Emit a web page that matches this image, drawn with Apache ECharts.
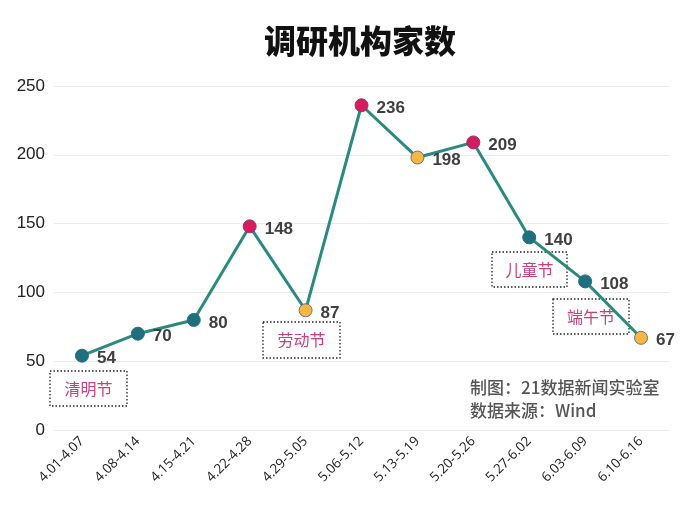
<!DOCTYPE html>
<html><head><meta charset="utf-8">
<script src="https://cdn.jsdelivr.net/npm/echarts@6/dist/echarts.min.js"></script>
<style>html,body{margin:0;padding:0;background:#fff}#c{width:700px;height:512px}</style>
</head><body><div id="c"></div>
<script>
const categories = ['4.01-4.07','4.08-4.14','4.15-4.21','4.22-4.28','4.29-5.05','5.06-5.12','5.13-5.19','5.20-5.26','5.27-6.02','6.03-6.09','6.10-6.16'];
const values = [54,70,80,148,87,236,198,209,140,108,67];
const pointKinds = ['t','t','t','m','o','m','o','m','t','t','o'];
const yTicks = [0,50,100,150,200,250];
const kindColor = {t:'#1f6f7e', m:'#d81b60', o:'#f6b840'};
const kindBorder = {t:'#1f6f7e', m:'#8a3a6a', o:'#7a6a8a'};

const notes = [
  {text:'清明节', x:50, y:371, w:77, h:35},
  {text:'劳动节', x:263, y:322, w:77, h:36},
  {text:'儿童节', x:492, y:252, w:75, h:35},
  {text:'端午节', x:553, y:299, w:76, h:35}
];

const chart = echarts.init(document.getElementById('c'));
const graphics = [];
notes.forEach(n => {
  graphics.push({type:'rect', shape:{x:n.x,y:n.y,width:n.w,height:n.h},
    style:{fill:'#fff', stroke:'#222', lineWidth:1.3, lineDash:[1.5,2]}, z:1});
  graphics.push({type:'text', x:n.x+n.w/2, y:n.y+n.h/2,
    style:{text:n.text, fill:'#c8407e', font:'16px "Noto Sans CJK SC"', align:'center', verticalAlign:'middle'}, z:2});
});
graphics.push({type:'text', left:470, top:376, style:{text:'制图：21数据新闻实验室\n数据来源：Wind', fill:'#555', font:'500 17px "Noto Sans CJK SC"', lineHeight:23}, z:5});

chart.setOption({
  animation:false,
  title:{text:'调研机构家数', left:259, top:20, textStyle:{fontSize:32, fontWeight:900, color:'#111', fontFamily:'Noto Sans CJK SC'}},
  grid:{left:54, right:31, top:86, bottom:82},
  xAxis:{type:'category', data:categories, boundaryGap:true,
    axisLine:{show:false}, axisTick:{show:false},
    axisLabel:{rotate:45, interval:0, color:'#222', fontSize:13.5, margin:9, fontFamily:'Open Sans'}},
  yAxis:{type:'value', min:0, max:250, interval:50,
    axisLine:{show:false}, axisTick:{show:false},
    splitLine:{lineStyle:{color:'#ebebeb', width:1}},
    axisLabel:{color:'#222', fontSize:17, margin:9, fontFamily:'Liberation Sans',
      formatter: v => yTicks.includes(v) ? String(v) : ''}},
  graphic: graphics,
  series:[{
    type:'line', z:3,
    data: values.map((v,i)=>({value:v, itemStyle:{color:kindColor[pointKinds[i]], borderColor:kindBorder[pointKinds[i]], borderWidth:1}})),
    symbol:'circle', symbolSize:13,
    lineStyle:{color:'#2a8a80', width:3},
    label:{show:true, position:'right', distance:8, offset:[0,3], color:'#404040', fontSize:17, fontWeight:'bold', fontFamily:'Liberation Sans'}
  }]
});
</script></body></html>
